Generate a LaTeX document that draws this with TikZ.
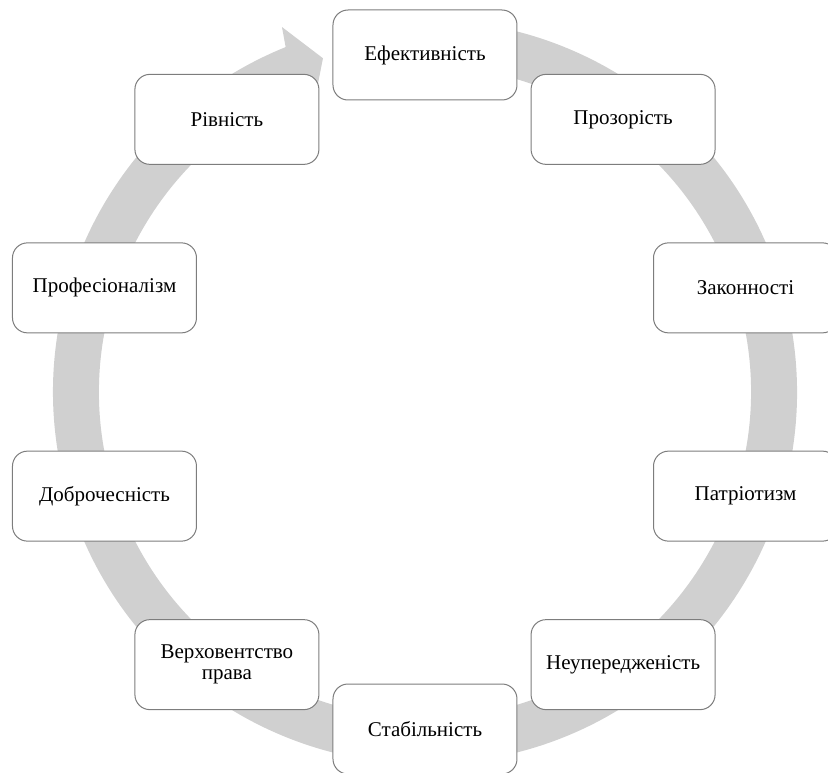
\documentclass[tikz,border=0pt]{standalone}
\usepackage{fontspec}
\setmainfont{Liberation Serif}
\usepackage{tikz}
\usetikzlibrary{calc}
\definecolor{ringgray}{RGB}{208,208,208}
\definecolor{boxline}{RGB}{125,125,125}
\tikzset{valuebox/.style={rectangle, rounded corners=15pt, draw=boxline, line width=1pt, fill=white,
    minimum width=184pt, minimum height=90pt, align=center, font=\fontsize{21}{21}\selectfont}}

\begin{document}
\begin{tikzpicture}[x=1pt,y=1pt]
      \useasboundingbox (-425,-380) rectangle (403,392);
      \clip (-425,-380) rectangle (403,392);
      % circular arrow behind the boxes
      \fill [ringgray] (100:372) arc [start angle=100, end angle=-248, radius=372]
            -- (-248.6:392) -- (-253:349) -- (-248.6:306) -- (-248:326)
            arc [start angle=-248, end angle=100, radius=326] -- cycle;
      % values
      \node [valuebox] (efekt)   at (90:337)   {Ефективність};
      \node [valuebox] (prozor)  at (54:337)   {Прозорість};
      \node [valuebox] (zakon)   at (18:337)   {Законності};
      \node [valuebox] (patriot) at (-18:337)  {Патріотизм};
      \node [valuebox] (neuper)  at (-54:337)  {Неупередженість};
      \node [valuebox] (stabil)  at (-90:337)  {Стабільність};
      \node [valuebox] (verkh)   at (-126:337) {Верховентство\\права};
      \node [valuebox] (dobro)   at (-162:337) {Доброчесність};
      \node [valuebox] (profes)  at (162:337)  {Професіоналізм};
      \node [valuebox] (rivn)    at (126:337)  {Рівність};
    \end{tikzpicture}
\end{document}
